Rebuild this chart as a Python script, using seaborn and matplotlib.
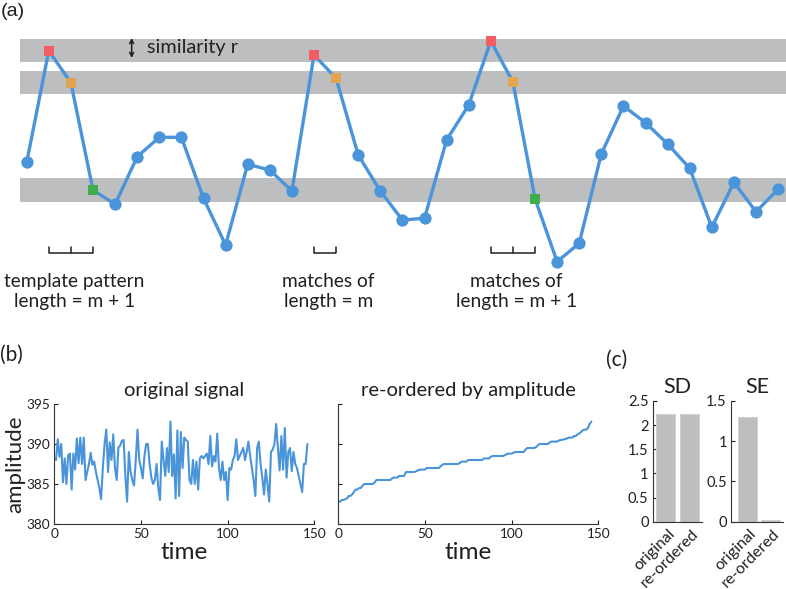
import numpy as np
import pandas as pd
import matplotlib
matplotlib.use('Agg')
import matplotlib.pyplot as plt
import matplotlib.transforms as mtrans
import seaborn as sns

# (a) toy series used to illustrate sample entropy
toy_values = [10.77, 21.93, 18.73, 8.0, 6.57, 11.33, 13.27, 13.27, 7.17, 2.5,
              10.57, 10.0, 7.9, 21.5, 19.17, 11.5, 7.9, 5.0, 5.17, 13.0,
              16.5, 22.9, 18.8, 7.13, 0.83, 2.67, 11.6, 16.4, 14.73, 12.6,
              10.17, 4.27, 8.77, 5.83, 8.07]
similarity_r = 1.17
template_idx = [1, 2, 3]
match_m_idx = [13, 14]
match_m1_idx = [21, 22, 23]
point_role = {1: 'first', 13: 'first', 21: 'first',
              2: 'second', 14: 'second', 22: 'second',
              3: 'third', 23: 'third'}

# (b) recorded signal
signal = [388.2, 388.0, 390.6, 388.4, 390.0, 385.2, 388.2, 385.0, 388.6, 388.8,
          384.3, 388.8, 386.8, 390.7, 387.6, 390.8, 387.5, 390.8, 385.5, 386.5,
          387.5, 388.9, 387.4, 387.8, 386.5, 385.5, 384.5, 383.1, 387.0, 390.0,
          391.8, 386.5, 390.2, 388.0, 391.2, 387.0, 385.5, 389.6, 389.8, 390.4,
          390.5, 386.0, 382.8, 389.0, 386.5, 385.5, 384.8, 388.0, 391.8, 388.0,
          387.0, 385.7, 388.5, 390.0, 390.0, 387.5, 385.8, 385.0, 385.5, 387.5,
          384.5, 383.0, 390.3, 388.0, 386.0, 389.5, 386.5, 392.8, 386.0, 388.7,
          383.2, 391.7, 383.5, 391.5, 387.0, 390.8, 390.5, 390.3, 385.5, 385.0,
          388.0, 385.0, 387.8, 384.3, 388.2, 388.5, 388.2, 388.5, 388.8, 387.5,
          391.0, 387.2, 388.5, 387.8, 391.3, 387.0, 385.5, 387.8, 385.5, 386.5,
          383.0, 387.0, 386.8, 388.0, 388.5, 390.6, 388.0, 388.5, 389.0, 389.5,
          388.0, 389.0, 390.3, 388.5, 387.0, 385.5, 383.5, 389.5, 390.3, 387.5,
          385.8, 383.7, 386.8, 385.0, 382.8, 389.0, 389.3, 390.0, 392.5, 389.5,
          386.7, 391.0, 386.8, 392.0, 385.8, 389.0, 389.5, 386.6, 389.0, 387.5,
          387.0, 386.0, 385.0, 384.0, 387.5, 387.5, 390.0]

# (c) summary statistics
bar_labels = ['original', 're-ordered']
sd_values = [2.23, 2.23]
se_values = [1.30, 0.02]

BLUE = '#4A94DA'
GRAY = '#BDBEC0'
INK = '#231F20'
role_colors = {'first': '#F45D63', 'second': '#E2A450', 'third': '#3FAD4B'}

sns.set_theme(style='white')
plt.rcParams['font.family'] = ['Lato', 'DejaVu Sans']
plt.rcParams['text.color'] = INK
plt.rcParams['axes.labelcolor'] = INK
plt.rcParams['xtick.color'] = INK
plt.rcParams['ytick.color'] = INK

W, H = 786, 589
fig = plt.figure(figsize=(W / 100, H / 100), dpi=100)


def px_axes(left, top, right, bottom):
    return fig.add_axes([left / W, 1 - bottom / H, (right - left) / W, (bottom - top) / H])


# ---------------- (a) ----------------
ax = px_axes(0, 0, W, 320)
ax.set_xlim(-1.208, 34.357)
ax.set_ylim(-5, 27)
ax.axis('off')

toy = pd.DataFrame({'i': np.arange(len(toy_values)), 'v': toy_values})
toy['role'] = [point_role.get(i, 'circle') for i in toy['i']]

for i in template_idx:
    ax.axhspan(toy_values[i] - similarity_r, toy_values[i] + similarity_r,
               xmin=20 / W, xmax=1.0, color=GRAY, lw=0, zorder=0)

sns.lineplot(data=toy, x='i', y='v', ax=ax, color=BLUE, lw=2.4, zorder=2)
sns.scatterplot(data=toy[toy['role'] == 'circle'], x='i', y='v', ax=ax,
                color=BLUE, s=78, marker='o', linewidth=0, zorder=3)
for role, col in role_colors.items():
    sns.scatterplot(data=toy[toy['role'] == role], x='i', y='v', ax=ax,
                    color=col, s=62, marker='s', linewidth=0, zorder=4)

ax.annotate('', xy=(4.75, 23.2), xytext=(4.75, 21.2),
            arrowprops=dict(arrowstyle='<->', color=INK, lw=1.1,
                            shrinkA=0, shrinkB=0, mutation_scale=7))
ax.text(5.45, 22.2, 'similarity r', fontsize=14.3, va='center', ha='left')

for idx, lines in [(template_idx, 'template pattern\nlength = m + 1'),
                   (match_m_idx, 'matches of\nlength = m'),
                   (match_m1_idx, 'matches of\nlength = m + 1')]:
    ax.plot([idx[0], idx[-1]], [1.75, 1.75], color=INK, lw=1.1,
            solid_capstyle='butt')
    for i in idx:
        ax.plot([i, i], [1.75, 2.35], color=INK, lw=1.1)
    ax.text(np.mean(idx) + 0.15, -0.3, lines, ha='center', va='top',
            fontsize=13.8, linespacing=1.2)

fig.text(1 / W, 1 - 11 / H, '(a)', fontsize=14, va='center', ha='left',
         family=['Liberation Sans', 'DejaVu Sans'])

# ---------------- (b) ----------------
t = np.arange(len(signal))
ax_o = px_axes(54.3, 404, 314.3, 524)
ax_r = px_axes(338.3, 404, 598.3, 524)
sns.lineplot(x=t, y=signal, ax=ax_o, color=BLUE, lw=1.5)
sns.lineplot(x=t, y=np.sort(signal), ax=ax_r, color=BLUE, lw=1.5)

for a, title in [(ax_o, 'original signal'), (ax_r, 're-ordered by amplitude')]:
    a.set_xlim(0, 150)
    a.set_ylim(380, 395)
    a.set_xticks([0, 50, 100, 150])
    a.set_yticks([380, 385, 390, 395])
    a.tick_params(direction='in', length=3, width=0.8, labelsize=9.8, pad=3,
                  bottom=True, left=True)
    sns.despine(ax=a)
    for s in ('left', 'bottom'):
        a.spines[s].set_color('#333333')
        a.spines[s].set_linewidth(0.8)
    a.set_title(title, fontsize=14.5, pad=6)
    a.set_xlabel('time', fontsize=17.5)
    a.xaxis.set_label_coords(0.5, -0.15)
ax_o.set_ylabel('amplitude', fontsize=16)
ax_o.yaxis.set_label_coords(-0.112, 0.5)
ax_r.set_yticklabels([])
ax_r.set_ylabel('')

fig.text(0 / W, 1 - 355 / H, '(b)', fontsize=15, va='center', ha='left')

# ---------------- (c) ----------------
ax_sd = px_axes(652.7, 401, 701.7, 521.7)
ax_se = px_axes(731, 401, 783, 521.7)
for a, vals, title, ymax, yt, xl in [
        (ax_sd, sd_values, 'SD', 2.5, [0, 0.5, 1, 1.5, 2, 2.5], (-0.53, 1.5)),
        (ax_se, se_values, 'SE', 1.5, [0, 0.5, 1, 1.5], (-0.69, 1.52))]:
    sns.barplot(x=bar_labels, y=vals, ax=a, color=GRAY, saturation=1,
                width=0.8, edgecolor='#CFCFD1', linewidth=0.6)
    a.set_ylim(0, ymax)
    a.set_xlim(*xl)
    a.set_yticks(yt)
    a.set_yticklabels([f'{v:g}' for v in yt])
    a.set_xticks([0, 1])
    a.set_xticklabels([])
    # rotated category labels, anchored just right of / below each bar
    shift = mtrans.ScaledTranslation(0.07, -0.10, fig.dpi_scale_trans)
    for i, lab in enumerate(bar_labels):
        a.text(i, 0, lab, rotation=45, ha='right', va='center',
               rotation_mode='anchor', fontsize=11.5,
               transform=a.get_xaxis_transform() + shift)
    a.tick_params(axis='y', direction='in', length=3, width=0.8,
                  labelsize=10.5, pad=3, left=True)
    a.tick_params(axis='x', length=0)
    sns.despine(ax=a)
    for s in ('left', 'bottom'):
        a.spines[s].set_color('#333333')
        a.spines[s].set_linewidth(0.8)
    a.set_title(title, fontsize=15.5, pad=6)

fig.text(606 / W, 1 - 360 / H, '(c)', fontsize=15, va='center', ha='left')

fig.savefig('out.png', dpi=100, facecolor='white')
